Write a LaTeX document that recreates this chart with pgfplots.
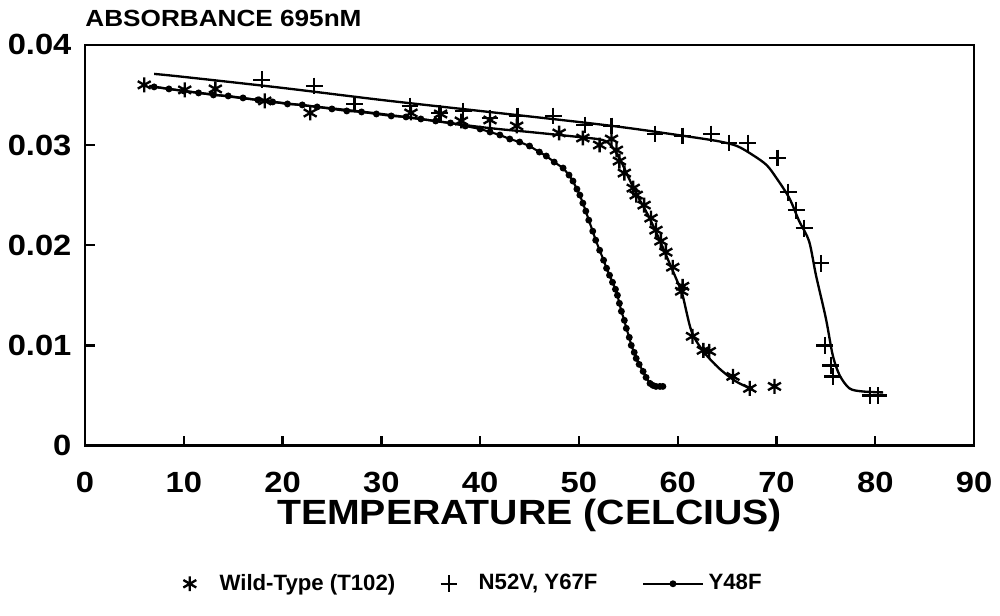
\documentclass[border=0pt]{standalone}
\usepackage{fontspec}
\setmainfont{Liberation Sans}[FakeStretch=1.12]
\newfontfamily\legfont{Liberation Sans}
\usepackage{pgfplots}
\pgfplotsset{compat=1.18}
\begin{document}
\begin{tikzpicture}
\begin{axis}[
  scale only axis,
  width=13.38cm, height=6.03cm,
  xmin=0, xmax=90, ymin=0, ymax=0.04,
  xtick={0,10,...,90},
  ytick={0,0.01,0.02,0.03,0.04},
  yticklabels={0,0.01,0.02,0.03,0.04},
  scaled y ticks=false,
  xtick pos=bottom, ytick pos=left,
  tick align=inside,
  major tick length=0.15cm,
  axis line style={line width=1.1pt},
  every tick/.style={line width=1pt, black},
  /pgf/number format/assume math mode=true,
  tick label style={font=\fontsize{12.5}{15}\selectfont\bfseries},
  xticklabel style={yshift=-0.27cm},
  yticklabel style={xshift=-0.08cm},
  xlabel={TEMPERATURE (CELCIUS)},
  xlabel style={font=\fontsize{15}{18}\selectfont\bfseries,
    at={(axis description cs:0.5,-0.175)}, anchor=center},
  legend columns=3,
  legend style={draw=none, fill=none, font=\legfont\fontsize{9.5}{11}\selectfont\bfseries,
    at={(axis description cs:0.437,-0.345)}, anchor=center,
    /tikz/every odd column/.append style={column sep=0pt},
    /tikz/every even column/.append style={column sep=0.6cm}},
  legend cell align=left,
  marklegend/.style={legend image code/.code={
    \draw plot coordinates {(0cm,0cm)}; \path (-0.12cm,0cm) (0.36cm,0cm);}},
]
% wild-type (T102) measured points
\addplot[only marks, mark=asterisk, mark size=3.2pt, line width=1pt, marklegend] coordinates {
  (6.0,0.0360) (10.1,0.0355) (13.2,0.0356) (18.2,0.0344) (22.8,0.0332)
  (33.0,0.0332) (36.0,0.0331) (38.1,0.0324) (41.0,0.0325) (43.7,0.0319)
  (48.0,0.0312) (50.4,0.0307) (52.1,0.0300) (53.3,0.0306) (53.8,0.0295)
  (54.1,0.0284) (54.6,0.0272) (55.5,0.0257) (55.8,0.0250) (56.6,0.0240)
  (57.3,0.0227) (57.8,0.0215) (58.3,0.0204) (58.8,0.0193) (59.5,0.0178)
  (60.5,0.0159) (60.4,0.0154) (61.5,0.0109) (62.6,0.0095) (63.2,0.0094)
  (65.6,0.0069) (67.3,0.0057) (69.8,0.0059)
};
\addlegendentry{Wild-Type (T102)}
% N52V, Y67F measured points
\addplot[only marks, mark=+, mark size=3.6pt, line width=1pt, marklegend] coordinates {
  (17.9,0.0365) (23.2,0.0359) (27.3,0.0341) (32.9,0.0339) (35.9,0.0332)
  (38.3,0.0334) (41.0,0.0327) (43.8,0.0329) (47.4,0.0329) (50.6,0.0320)
  (53.3,0.0319) (57.7,0.0311) (60.5,0.0309) (63.4,0.0311) (65.2,0.0302)
  (67.1,0.0302) (70.1,0.0287) (71.2,0.0253) (72.0,0.0235) (72.8,0.0217)
  (74.5,0.0182) (74.9,0.0100) (75.5,0.0080) (75.7,0.0069) (79.5,0.0050)
  (80.3,0.0050)
};
\addlegendentry{N52V, Y67F}
% Y48F
\addplot[line width=0.9pt, mark=*, mark size=1pt,
  legend image code/.code={\draw[mark repeat=2, mark phase=2]
    plot coordinates {(0cm,0cm) (0.45cm,0cm) (0.9cm,0cm)};}] coordinates {
  (7,0.0358) (8.5,0.0356) (10,0.0354) (11.5,0.0352) (13,0.0350) (14.5,0.0349)
  (16,0.0347) (17.5,0.0345) (19,0.0343) (20.5,0.0341) (22,0.0340) (23.5,0.0338)
  (25,0.0336) (26.5,0.0334) (28,0.0333) (29.5,0.0331) (31,0.0329) (32.5,0.0328)
  (34,0.0326) (35.5,0.0324) (37,0.0322) (38.5,0.0319) (40,0.0316) (41,0.0313)
  (42,0.0310) (43,0.0306) (44,0.0303) (45,0.0299) (46,0.0293) (46.7,0.0289)
  (47.5,0.0283) (48.4,0.0277) (49,0.0270) (49.4,0.0264) (49.8,0.0256)
  (50.1,0.0250) (50.4,0.0242) (50.7,0.0234) (51.0,0.0225) (51.4,0.0214)
  (51.7,0.0205) (52.1,0.0195) (52.5,0.0185) (52.8,0.0177) (53.1,0.0170)
  (53.4,0.0163) (53.7,0.0156) (53.9,0.0150) (54.1,0.0142) (54.3,0.0134)
  (54.6,0.0125) (54.8,0.0117) (55.1,0.0108) (55.3,0.0100) (55.6,0.0093)
  (55.8,0.0087) (56.1,0.0081) (56.5,0.0074) (56.8,0.0068) (57.2,0.0062)
  (57.5,0.0060) (57.8,0.0059) (58.2,0.0059) (58.5,0.0059)
};
\addlegendentry{Y48F}
% fitted curves
\addplot[forget plot, smooth, line width=1pt] coordinates {
  (6.5,0.0359) (10,0.0354) (20,0.0342) (30,0.0331) (40,0.0318) (45,0.0313)
  (50,0.0308) (52.4,0.0305) (53.3,0.0299) (54.2,0.0285) (55,0.0268)
  (56,0.0248) (57,0.0230) (58,0.0209) (59,0.0186) (60,0.0163) (60.5,0.0150)
  (61.4,0.0114) (62.6,0.0094) (64.2,0.0077) (65.9,0.0064) (67.6,0.0056)
};
\addplot[forget plot, smooth, line width=1pt] coordinates {
  (7,0.0371) (10,0.0368) (20,0.0357) (30,0.0345) (40,0.0334) (50,0.0323)
  (55,0.0317) (60,0.0310) (64,0.0304) (66,0.0299) (67.6,0.0290) (69,0.0280)
  (70,0.0267) (71.3,0.0247) (72.3,0.0224) (73.3,0.0204) (74.0,0.0170)
  (75.0,0.0127) (75.7,0.0090) (76.4,0.0070) (77.4,0.0057) (78.7,0.0054)
  (80.8,0.0053)
};
\end{axis}
\node[anchor=base west, inner sep=0pt, font=\fontsize{10}{12}\selectfont\bfseries]
  at (0cm,6.3cm) {ABSORBANCE 695nM};
\path[use as bounding box] (-1.23cm,-2.565cm) rectangle (13.77cm,6.705cm);
\end{tikzpicture}
\end{document}
